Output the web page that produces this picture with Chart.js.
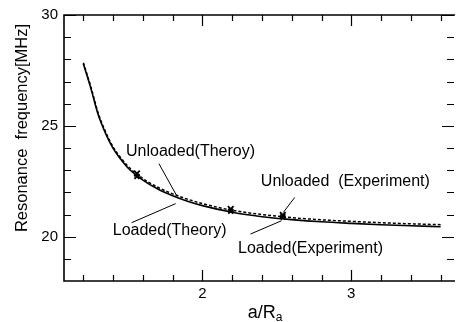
<!DOCTYPE html>
<html>
<head>
<meta charset="utf-8">
<script src="https://cdn.jsdelivr.net/npm/chart.js@4.4.0/dist/chart.umd.min.js"></script>
<style>
    html, body { margin: 0; padding: 0; background: #fff; }
</style>
</head>
<body>
<canvas id="c" width="460" height="322"></canvas>
<script>
// a/Ra values for the theory curves
const aRa = [1.2, 1.25, 1.3, 1.35, 1.4, 1.45, 1.5, 1.6, 1.7, 1.8, 1.9, 2.0, 2.2, 2.4, 2.6, 2.8, 3.0, 3.2, 3.4, 3.6];
// resonance frequency [MHz]
const loadedTheory   = [27.8, 26.7, 25.5, 24.65, 23.98, 23.5, 23.1, 22.55, 22.15, 21.85, 21.6, 21.4, 21.1, 20.9, 20.77, 20.67, 20.6, 20.54, 20.49, 20.45];
const unloadedTheory = [27.85, 26.77, 25.57, 24.72, 24.05, 23.57, 23.17, 22.62, 22.23, 21.93, 21.69, 21.49, 21.19, 21.0, 20.86, 20.76, 20.69, 20.63, 20.58, 20.54];

const expARa      = [1.56, 2.19, 2.54];
const unloadedExp = [22.85, 21.25, 20.98];
const loadedExp   = [22.72, 21.15, 20.9];

// tick labels and tick marks
const xLabels = [2, 3];
const xMinor  = [1.2, 1.4, 1.6, 1.8, 2.2, 2.4, 2.6, 2.8, 3.2, 3.4, 3.6];
const yLabels = [20, 25, 30];
const yMinor  = [19, 21, 22, 23, 24, 26, 27, 28, 29];

// callout texts, anchored in data units: [text, x, y, lineFromX, lineFromY, lineToX, lineToY]
const callouts = [
    ['Unloaded(Theroy)',        1.92, 23.83, 1.708, 23.29, 1.827, 21.85],
    ['Loaded(Theory)',          1.78, 20.27, 1.524, 20.63, 1.82, 21.49],
    ['Unloaded  (Experiment)',  2.96, 22.48, 2.62, 21.77, 2.543, 21.09],
    ['Loaded(Experiment)',      2.726, 19.46, 2.323, 20.12, 2.532, 20.72],
];

const FONT = '"Liberation Sans", Arial, Helvetica, sans-serif';

const pts = (xs, ys) => xs.map((x, i) => ({ x, y: ys[i] }));

// box with inward tick marks on all four sides
const framePlugin = {
    id: 'frame',
    afterDraw(chart) {
        const { ctx, chartArea: a, scales: { x, y } } = chart;
        ctx.save();
        ctx.strokeStyle = '#000';
        ctx.lineWidth = 1.6;
        ctx.beginPath();
        ctx.moveTo(a.right + 1, a.top); ctx.lineTo(a.left, a.top);
        ctx.lineTo(a.left, a.bottom); ctx.lineTo(a.right + 1, a.bottom);
        ctx.stroke();

        ctx.lineWidth = 1.2;
        const tick = (v, len) => {
            const px = Math.round(x.getPixelForValue(v)) + 0.5;
            ctx.moveTo(px, a.bottom); ctx.lineTo(px, a.bottom - len);
            ctx.moveTo(px, a.top); ctx.lineTo(px, a.top + len);
        };
        const ytick = (v, len) => {
            const py = Math.round(y.getPixelForValue(v)) + 0.5;
            ctx.moveTo(a.left, py); ctx.lineTo(a.left + len, py);
            ctx.moveTo(a.right, py); ctx.lineTo(a.right - len, py);
        };
        ctx.beginPath();
        xMinor.forEach(v => tick(v, 6));
        xLabels.forEach(v => tick(v, 11));
        yMinor.forEach(v => ytick(v, 7));
        yLabels.forEach(v => ytick(v, 12));
        ctx.stroke();

        // axis titles
        ctx.fillStyle = '#000';
        ctx.textBaseline = 'middle';
        ctx.textAlign = 'center';
        ctx.save();
        ctx.translate(22, 128);
        ctx.rotate(-Math.PI / 2);
        ctx.font = '16.5px ' + FONT;
        ctx.fillText('Resonance  frequency[MHz]', 0, 0);
        ctx.restore();

        ctx.textBaseline = 'alphabetic';
        ctx.textAlign = 'left';
        ctx.font = '18px ' + FONT;
        const main = 'a/R';
        const w1 = ctx.measureText(main).width;
        ctx.font = '12px ' + FONT;
        const w2 = ctx.measureText('a').width;
        const x0 = 265 - (w1 + w2) / 2;
        ctx.font = '18px ' + FONT;
        ctx.fillText(main, x0, 318);
        ctx.font = '12px ' + FONT;
        ctx.fillText('a', x0 + w1, 321);
        ctx.restore();
    }
};

const calloutPlugin = {
    id: 'callouts',
    afterDatasetsDraw(chart) {
        const { ctx, scales: { x, y } } = chart;
        ctx.save();
        ctx.fillStyle = '#000';
        ctx.strokeStyle = '#000';
        ctx.lineWidth = 1;
        ctx.font = '16px ' + FONT;
        ctx.textAlign = 'center';
        ctx.textBaseline = 'middle';
        callouts.forEach(([t, tx, ty, x1, y1, x2, y2]) => {
            ctx.fillText(t, x.getPixelForValue(tx), y.getPixelForValue(ty));
            ctx.beginPath();
            ctx.moveTo(x.getPixelForValue(x1), y.getPixelForValue(y1));
            ctx.lineTo(x.getPixelForValue(x2), y.getPixelForValue(y2));
            ctx.stroke();
        });
        ctx.restore();
    }
};

new Chart(document.getElementById('c'), {
    type: 'scatter',
    data: {
        datasets: [
            {
                label: 'Loaded(Theory)',
                data: pts(aRa, loadedTheory),
                showLine: true,
                borderColor: '#000',
                borderWidth: 1.6,
                pointRadius: 0,
                cubicInterpolationMode: 'monotone',
            },
            {
                label: 'Unloaded(Theory)',
                data: pts(aRa, unloadedTheory),
                showLine: true,
                borderColor: '#000',
                borderWidth: 1.5,
                borderDash: [3, 2],
                pointRadius: 0,
                cubicInterpolationMode: 'monotone',
            },
            {
                label: 'Unloaded (Experiment)',
                data: pts(expARa, unloadedExp),
                pointStyle: 'crossRot',
                pointRadius: 4,
                borderColor: '#000',
                borderWidth: 1.8,
            },
            {
                label: 'Loaded(Experiment)',
                data: pts(expARa, loadedExp),
                pointStyle: 'crossRot',
                pointRadius: 3.5,
                borderColor: '#000',
                borderWidth: 2,
            },
        ],
    },
    options: {
        responsive: false,
        animation: false,
        layout: { padding: { top: 14, right: 0, left: 0, bottom: 0 } },
        plugins: { legend: { display: false }, tooltip: { enabled: false } },
        scales: {
            x: {
                type: 'linear',
                min: 1.07,
                max: 3.69,
                grid: { display: false, drawTicks: false, tickLength: 0 },
                border: { display: false },
                afterBuildTicks: s => { s.ticks = xLabels.map(v => ({ value: v })); },
                afterFit: s => { s.height = 41; },
                ticks: { color: '#000', padding: 4, font: { family: FONT, size: 15 } },
            },
            y: {
                type: 'linear',
                min: 18,
                max: 30,
                grid: { display: false, drawTicks: false, tickLength: 0 },
                border: { display: false },
                afterBuildTicks: s => { s.ticks = yLabels.map(v => ({ value: v })); },
                afterFit: s => { s.width = 64; },
                ticks: { color: '#000', padding: 6, font: { family: FONT, size: 15 } },
            },
        },
    },
    plugins: [framePlugin, calloutPlugin],
});
</script>
</body>
</html>
